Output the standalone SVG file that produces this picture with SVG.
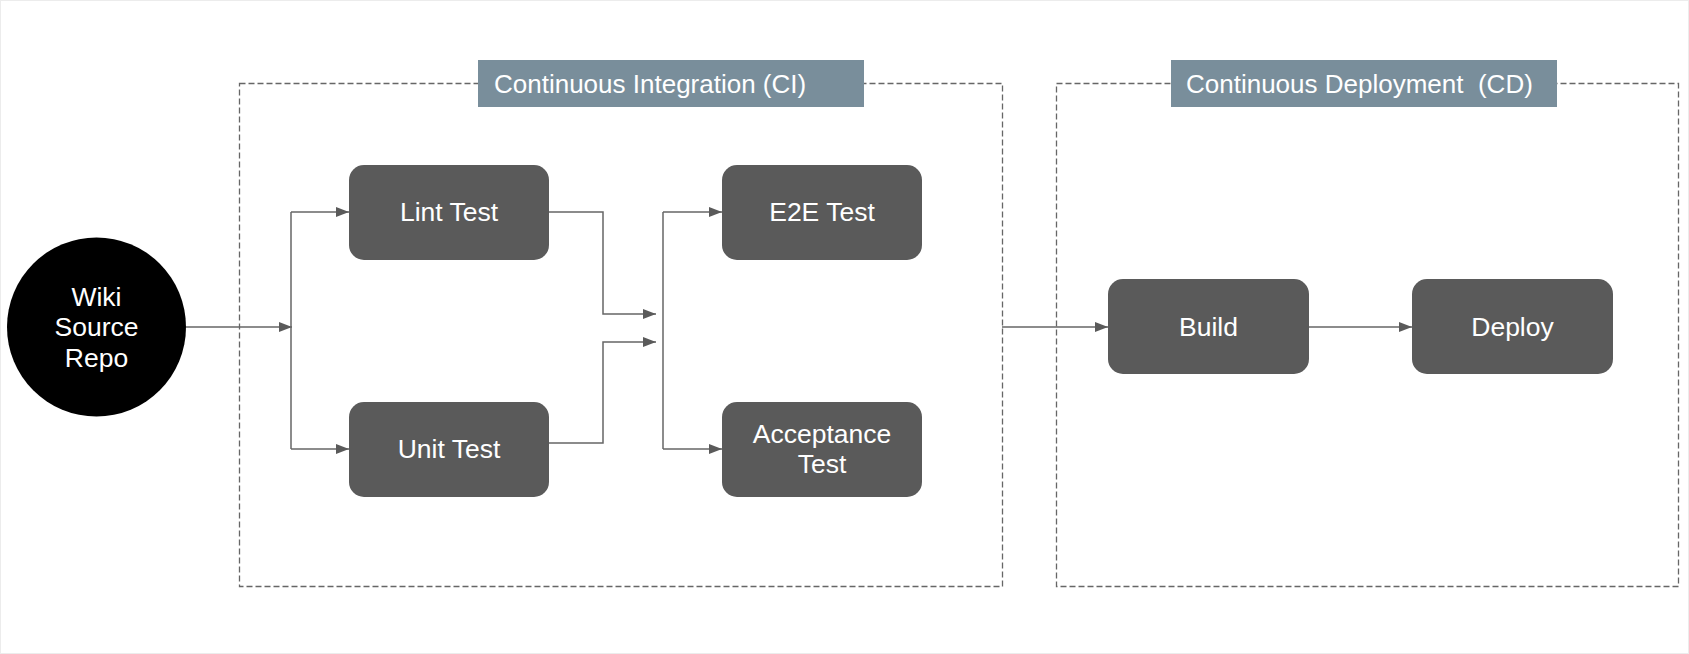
<svg xmlns="http://www.w3.org/2000/svg" width="1689" height="654" viewBox="0 0 1689 654">
<style>
.node{fill:#5a5a5a}
.nt{fill:#ffffff;font-family:"Liberation Sans",Arial,sans-serif;font-size:26.5px;text-anchor:middle}
.lt{fill:#ffffff;font-family:"Liberation Sans",Arial,sans-serif;font-size:26px}
.lab{fill:#798e9b}
.grp{fill:none;stroke:#666666;stroke-width:1.3;stroke-dasharray:6 3}
.ln{fill:none;stroke:#666666;stroke-width:1.5}
.arr{marker-end:url(#ah)}
</style>
<defs>
<marker id="ah" markerUnits="userSpaceOnUse" markerWidth="14" markerHeight="12" refX="13" refY="5" orient="auto">
<path d="M0,0 L13,5 L0,10 Z" fill="#5a5a5a"/>
</marker>
</defs>
<rect x="0.5" y="0.5" width="1688" height="653" fill="#ffffff" stroke="#ececec" stroke-width="1"/>
<g id="ci-group">
<rect class="grp" x="239.5" y="83.5" width="763" height="503"/>
<rect class="lab" x="478" y="60" width="386" height="47"/>
<text class="lt" x="494" y="93">Continuous Integration (CI)</text>
</g>
<g id="cd-group">
<rect class="grp" x="1056.5" y="83.5" width="622" height="503"/>
<rect class="lab" x="1171" y="60" width="386" height="47"/>
<text class="lt" x="1186" y="93" xml:space="preserve">Continuous Deployment  (CD)</text>
</g>
<g id="connectors">
<path class="ln arr" d="M186,327 H292"/>
<path class="ln" d="M291,212 V449"/>
<path class="ln arr" d="M291,212 H349"/>
<path class="ln arr" d="M291,449 H349"/>
<path class="ln arr" d="M549,212 H603 V314 H656"/>
<path class="ln arr" d="M549,443 H603 V342 H656"/>
<path class="ln" d="M663,212 V449"/>
<path class="ln arr" d="M663,212 H722"/>
<path class="ln arr" d="M663,449 H722"/>
<path class="ln arr" d="M1002,327 H1108"/>
<path class="ln arr" d="M1309,327 H1412"/>
</g>
<g id="repo">
<circle cx="96.5" cy="327" r="89.5" fill="#000000"/>
<text class="nt" x="96.5" y="306">Wiki</text>
<text class="nt" x="96.5" y="336">Source</text>
<text class="nt" x="96.5" y="367">Repo</text>
</g>
<g id="lint">
<rect class="node" x="349" y="165" width="200" height="95" rx="15"/>
<text class="nt" x="449" y="221">Lint Test</text>
</g>
<g id="unit">
<rect class="node" x="349" y="402" width="200" height="95" rx="15"/>
<text class="nt" x="449" y="458">Unit Test</text>
</g>
<g id="e2e">
<rect class="node" x="722" y="165" width="200" height="95" rx="15"/>
<text class="nt" x="822" y="221">E2E Test</text>
</g>
<g id="acceptance">
<rect class="node" x="722" y="402" width="200" height="95" rx="15"/>
<text class="nt" x="822" y="443">Acceptance</text>
<text class="nt" x="822" y="473">Test</text>
</g>
<g id="build">
<rect class="node" x="1108" y="279" width="201" height="95" rx="15"/>
<text class="nt" x="1208.5" y="336">Build</text>
</g>
<g id="deploy">
<rect class="node" x="1412" y="279" width="201" height="95" rx="15"/>
<text class="nt" x="1512.5" y="336">Deploy</text>
</g>
</svg>
